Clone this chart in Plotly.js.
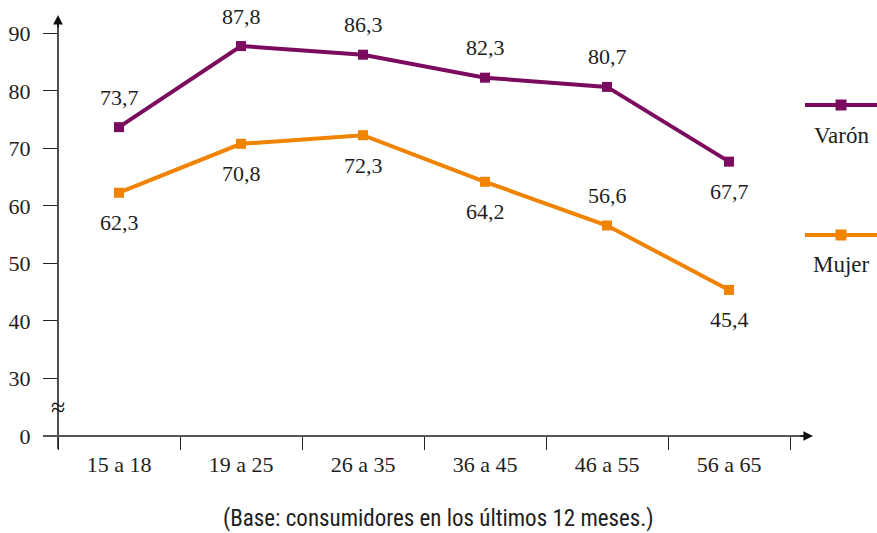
<!DOCTYPE html>
<html>
<head>
<meta charset="utf-8">
<script src="https://cdn.plot.ly/plotly-3.0.1.min.js"></script>
<style>
  html, body { margin: 0; padding: 0; background: #fff; }
  #chart { width: 877px; height: 533px; }
</style>
</head>
<body>
<div id="chart"></div>
<script>
// Age groups and percentage values per sex
const ageGroups = ['15 a 18', '19 a 25', '26 a 35', '36 a 45', '46 a 55', '56 a 65'];
const varon = [73.7, 87.8, 86.3, 82.3, 80.7, 67.7];
const mujer = [62.3, 70.8, 72.3, 64.2, 56.6, 45.4];
// Label placement per point: 1 = above the marker, -1 = below
const varonLabelSide = [1, 1, 1, 1, 1, -1];
const mujerLabelSide = [-1, -1, -1, -1, 1, -1];
// Y axis with a break: the "0" tick sits one step below 30
const yTickVals = [20, 30, 40, 50, 60, 70, 80, 90];
const yTickText = ['0', '30', '40', '50', '60', '70', '80', '90'];
const seriesNames = ['Varón', 'Mujer'];
const footnote = '(Base: consumidores en los últimos 12 meses.)';

const PURPLE = '#7b0b5e';
const ORANGE = '#f08300';
const SERIF = 'Liberation Serif';
const NARROW = 'Roboto Condensed';
const TXT = '#1e1e1e';

const W = 877, H = 533;
const M = { l: 58, r: 87, t: 15, b: 97 };
const pw = W - M.l - M.r, ph = H - M.t - M.b;
// pixel -> paper helpers
const px = x => (x - M.l) / pw;
const py = y => (H - M.b - y) / ph;

function lineTrace(name, vals, color) {
  return {
    type: 'scatter', mode: 'lines+markers', name: name,
    x: ageGroups, y: vals,
    line: { color: color, width: 4 },
    marker: { color: color, symbol: 'square', size: 10 },
    cliponaxis: false, hoverinfo: 'x+y'
  };
}

const fmt = v => v.toFixed(1).replace('.', ',');

const annotations = [];
function addLabels(vals, sides) {
  vals.forEach((v, i) => {
    annotations.push({
      x: ageGroups[i], y: v, xref: 'x', yref: 'y',
      xanchor: 'center', yanchor: 'middle',
      text: fmt(v), showarrow: false,
      yshift: sides[i] * 30,
      font: { family: SERIF, size: 22, color: TXT }
    });
  });
}
addLabels(varon, varonLabelSide);
addLabels(mujer, mujerLabelSide);

// Axis arrowheads
annotations.push({
  x: 0, y: 1, xref: 'paper', yref: 'paper', text: '',
  showarrow: true, ax: 0, ay: 14, arrowhead: 2, arrowsize: 1.2,
  arrowwidth: 1.6, arrowcolor: '#111'
});
annotations.push({
  x: px(813), y: 0, xref: 'paper', yref: 'paper', text: '',
  showarrow: true, ax: -14, ay: 0, arrowhead: 2, arrowsize: 1.2,
  arrowwidth: 1.6, arrowcolor: '#111'
});
// Axis break mark
annotations.push({
  x: 0, y: py(407), xref: 'paper', yref: 'paper', text: '≈',
  xanchor: 'center', yanchor: 'middle',
  showarrow: false, font: { family: SERIF, size: 26, color: '#111' }
});

// Legend: line + square symbol with the series name beneath
const legendRows = [
  { name: seriesNames[0], color: PURPLE, lineY: 105, textY: 135 },
  { name: seriesNames[1], color: ORANGE, lineY: 235, textY: 264 }
];
const shapes = [];
legendRows.forEach(r => {
  shapes.push({
    type: 'line', xref: 'paper', yref: 'paper',
    x0: px(805), x1: px(877), y0: py(r.lineY), y1: py(r.lineY),
    line: { color: r.color, width: 4 }
  });
  shapes.push({
    type: 'rect', xref: 'paper', yref: 'paper',
    xsizemode: 'pixel', ysizemode: 'pixel',
    xanchor: px(841), yanchor: py(r.lineY),
    x0: -5.5, x1: 5.5, y0: -5.5, y1: 5.5,
    fillcolor: r.color, line: { width: 0 }
  });
  annotations.push({
    x: px(841), y: py(r.textY), xref: 'paper', yref: 'paper',
    xanchor: 'center', yanchor: 'middle',
    text: r.name, showarrow: false,
    font: { family: SERIF, size: 23, color: TXT }
  });
});

// Axis lines
shapes.push({
  type: 'line', xref: 'paper', yref: 'paper',
  x0: 0, x1: 0, y0: py(449), y1: 0.985,
  line: { color: '#222', width: 1.6 }
});
shapes.push({
  type: 'line', xref: 'paper', yref: 'paper',
  x0: px(43), x1: px(805), y0: 0, y1: 0,
  line: { color: '#555', width: 2 }
});

annotations.push({
  x: px(438), y: py(518), xref: 'paper', yref: 'paper',
  xanchor: 'center', yanchor: 'middle',
  text: footnote, showarrow: false, borderpad: 0,
  font: { family: NARROW, size: 23, color: TXT }
});

const layout = {
  width: W, height: H,
  margin: M,
  paper_bgcolor: '#fff', plot_bgcolor: '#fff',
  showlegend: false,
  xaxis: {
    type: 'category', range: [-0.5, 5.5], fixedrange: true,
    showgrid: false, zeroline: false, showline: false,
    tickson: 'boundaries', ticks: 'outside', ticklen: 13,
    tickwidth: 1.3, tickcolor: '#222',
    tickfont: { family: SERIF, size: 22, color: TXT },
    ticklabelstandoff: 13
  },
  yaxis: {
    range: [20, 93.2], fixedrange: true,
    showgrid: false, zeroline: false, showline: false,
    tickvals: yTickVals, ticktext: yTickText,
    ticks: 'outside', ticklen: 14, tickwidth: 1.3, tickcolor: '#222',
    tickfont: { family: SERIF, size: 22, color: TXT },
    ticklabelstandoff: 8
  },
  shapes: shapes,
  annotations: annotations
};

Plotly.newPlot('chart', [
  lineTrace(seriesNames[0], varon, PURPLE),
  lineTrace(seriesNames[1], mujer, ORANGE)
], layout, { displayModeBar: false });
</script>
</body>
</html>
